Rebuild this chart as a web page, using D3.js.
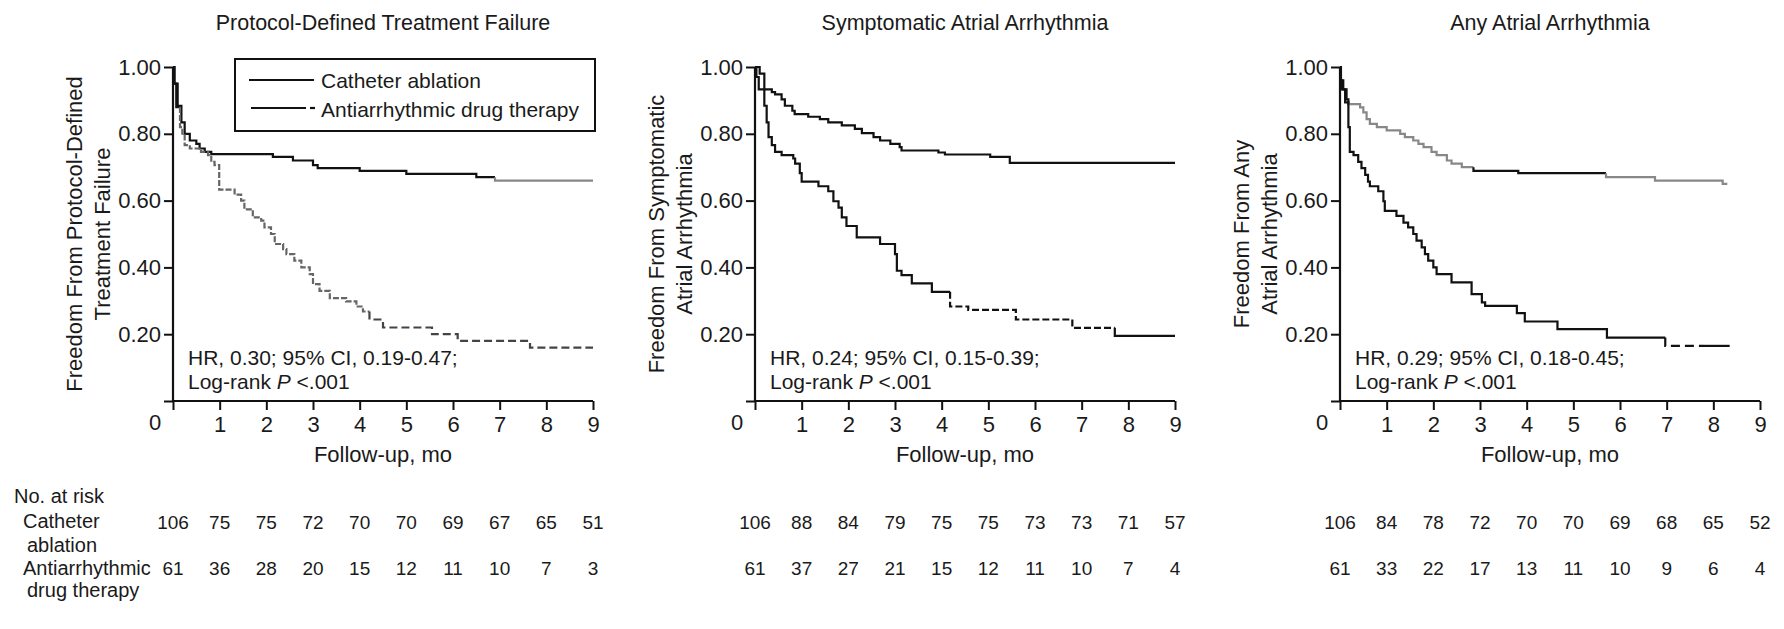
<!DOCTYPE html>
<html>
<head>
<meta charset="utf-8">
<script src="https://cdn.jsdelivr.net/npm/d3@7"></script>
<style>
body { margin: 0; background: #fff; }
text { font-family: "Liberation Sans", Arial, Helvetica, sans-serif; fill: #1a1a1a; }
</style>
</head>
<body>
<div id="vis"></div>
<script>
var width = 1784, height = 629;

// ---- data ----
var months = [0, 1, 2, 3, 4, 5, 6, 7, 8, 9];
var yTicks = [0.2, 0.4, 0.6, 0.8, 1.0];

var titles = ["Protocol-Defined Treatment Failure", "Symptomatic Atrial Arrhythmia", "Any Atrial Arrhythmia"];
var yTitles = [
  ["Freedom From Protocol-Defined", "Treatment Failure"],
  ["Freedom From Symptomatic", "Atrial Arrhythmia"],
  ["Freedom From Any", "Atrial Arrhythmia"]
];
var hrLines = ["HR, 0.30; 95% CI, 0.19-0.47;", "HR, 0.24; 95% CI, 0.15-0.39;", "HR, 0.29; 95% CI, 0.18-0.45;"];
var groups = ["Catheter ablation", "Antiarrhythmic drug therapy"];

// number at risk
var riskAblation1 = [106, 75, 75, 72, 70, 70, 69, 67, 65, 51];
var riskDrug1     = [61, 36, 28, 20, 15, 12, 11, 10, 7, 3];
var riskAblation2 = [106, 88, 84, 79, 75, 75, 73, 73, 71, 57];
var riskDrug2     = [61, 37, 27, 21, 15, 12, 11, 10, 7, 4];
var riskAblation3 = [106, 84, 78, 72, 70, 70, 69, 68, 65, 52];
var riskDrug3     = [61, 33, 22, 17, 13, 11, 10, 9, 6, 4];

// Kaplan-Meier steps [month, survival]
var kmAblation1 = [[0,1],[0.03,0.95],[0.1,0.884],[0.18,0.834],[0.25,0.8],[0.36,0.78],[0.5,0.77],[0.57,0.756],
  [0.68,0.746],[0.82,0.739],[2.14,0.731],[2.57,0.72],[3.0,0.706],[3.1,0.697],[4.0,0.689],[5.0,0.68],
  [6.5,0.67],[6.9,0.66],[9,0.66]];
var kmDrug1 = [[0,1],[0.03,0.95],[0.07,0.88],[0.15,0.82],[0.2,0.795],[0.25,0.766],[0.36,0.756],[0.6,0.746],
  [0.75,0.736],[0.82,0.716],[0.89,0.706],[0.99,0.633],[1.32,0.618],[1.46,0.6],[1.53,0.574],[1.71,0.55],
  [1.89,0.54],[1.96,0.52],[2.1,0.5],[2.18,0.47],[2.36,0.455],[2.43,0.44],[2.6,0.42],[2.75,0.4],[2.93,0.38],
  [3.0,0.35],[3.14,0.33],[3.36,0.308],[3.71,0.298],[3.93,0.283],[4.07,0.268],[4.21,0.244],[4.5,0.22],
  [5.55,0.2],[6.1,0.18],[7.65,0.16],[9,0.16]];
var kmAblation2 = [[0,1],[0.03,0.97],[0.08,0.933],[0.36,0.925],[0.43,0.918],[0.57,0.903],[0.64,0.884],
  [0.8,0.869],[0.85,0.859],[1.14,0.851],[1.39,0.844],[1.57,0.834],[1.86,0.825],[2.14,0.815],[2.29,0.802],
  [2.54,0.79],[2.68,0.78],[2.9,0.77],[3.1,0.76],[3.14,0.75],[3.93,0.744],[4.07,0.738],[5.04,0.731],
  [5.46,0.713],[9,0.713]];
var kmDrug2 = [[0,1],[0.1,0.98],[0.2,0.884],[0.25,0.834],[0.29,0.79],[0.36,0.766],[0.43,0.746],[0.57,0.736],
  [0.82,0.726],[0.86,0.711],[0.96,0.682],[1.0,0.657],[1.36,0.643],[1.57,0.628],[1.68,0.598],[1.79,0.579],
  [1.86,0.55],[1.96,0.524],[2.18,0.49],[2.68,0.47],[3.0,0.44],[3.04,0.39],[3.14,0.377],[3.36,0.352],
  [3.79,0.327],[4.18,0.283],[4.57,0.273],[5.59,0.244],[6.8,0.219],[7.71,0.195],[9,0.195]];
var kmAblation3 = [[0,1],[0.02,0.96],[0.04,0.933],[0.11,0.894],[0.18,0.889],[0.43,0.879],[0.5,0.864],
  [0.57,0.844],[0.64,0.83],[0.79,0.82],[1.0,0.81],[1.29,0.8],[1.39,0.79],[1.57,0.78],[1.68,0.77],[1.79,0.76],
  [1.96,0.746],[2.07,0.736],[2.29,0.72],[2.39,0.711],[2.61,0.7],[2.86,0.689],[3.82,0.682],[5.7,0.67],
  [6.75,0.66],[8.2,0.65],[8.3,0.645]];
var kmDrug3 = [[0,1],[0.02,0.96],[0.07,0.933],[0.14,0.903],[0.18,0.82],[0.21,0.746],[0.29,0.736],[0.39,0.716],
  [0.46,0.697],[0.54,0.677],[0.6,0.657],[0.64,0.643],[0.82,0.628],[0.93,0.598],[0.96,0.569],[1.21,0.554],
  [1.36,0.534],[1.46,0.52],[1.57,0.5],[1.64,0.48],[1.75,0.46],[1.82,0.44],[1.89,0.42],[2.0,0.4],[2.07,0.38],
  [2.39,0.355],[2.82,0.32],[3.04,0.295],[3.11,0.285],[3.79,0.263],[3.96,0.238],[4.66,0.215],[5.72,0.19],
  [6.97,0.165],[8.35,0.165]];

// ---- layout / style ----
var panelLeft = [173, 755, 1340];
var plotW = 420, plotTop = 67, plotBottom = 401;

var panels = [
  { ablation: kmAblation1, drug: kmDrug1, riskA: riskAblation1, riskD: riskDrug1,
    aStyle: [{from:0, to:6.9, color:"#111"}, {from:6.9, to:9, color:"#888"}],
    dStyle: [{from:0, to:0.15, color:"#111"}, {from:0.15, to:4.21, color:"#666", dash:"6,2"}, {from:4.21, to:9, color:"#444", dash:"8,4"}] },
  { ablation: kmAblation2, drug: kmDrug2, riskA: riskAblation2, riskD: riskDrug2,
    aStyle: [{from:0, to:9, color:"#111"}],
    dStyle: [{from:0, to:4.18, color:"#111"}, {from:4.18, to:7.71, color:"#111", dash:"7,3"}, {from:7.71, to:9, color:"#111"}] },
  { ablation: kmAblation3, drug: kmDrug3, riskA: riskAblation3, riskD: riskDrug3,
    aStyle: [{from:0, to:0.2, color:"#111"}, {from:0.2, to:2.86, color:"#888"}, {from:2.86, to:5.7, color:"#111"}, {from:5.7, to:8.3, color:"#888"}],
    dStyle: [{from:0, to:6.97, color:"#111"}, {from:6.97, to:7.8, color:"#111", dash:"9,5"}, {from:7.8, to:8.35, color:"#111"}] }
];

var svg = d3.select("#vis").append("svg")
  .attr("width", width)
  .attr("height", height);

var y = d3.scaleLinear().domain([0, 1]).range([plotBottom, plotTop]);

// cut a step series to the interval [a, b]
function clipSteps(data, a, b) {
  var before = data[0][1];
  data.forEach(function(p) { if (p[0] < a) before = p[1]; });
  var pts = [[a, before]];
  data.forEach(function(p) { if (p[0] >= a && p[0] < b) pts.push(p); });
  pts.push([b, pts[pts.length - 1][1]]);
  return pts;
}

panels.forEach(function(p, i) {
  var x0 = panelLeft[i];
  var x = d3.scaleLinear().domain([0, 9]).range([x0, x0 + plotW]);
  var g = svg.append("g");

  // title
  g.append("text")
    .attr("x", x0 + plotW / 2).attr("y", 30)
    .attr("text-anchor", "middle")
    .style("font-size", "21.5px")
    .text(titles[i]);

  // y axis
  var yAxis = g.append("g")
    .attr("transform", "translate(" + x0 + ",0)")
    .call(d3.axisLeft(y).tickValues([0].concat(yTicks)).tickSize(9).tickPadding(3)
      .tickFormat(function(d) { return d === 0 ? "" : d3.format(".2f")(d); }));
  // x axis
  var xAxis = g.append("g")
    .attr("transform", "translate(0," + plotBottom + ")")
    .call(d3.axisBottom(x).tickValues(months).tickSize(9).tickPadding(6)
      .tickFormat(function(d) { return d === 0 ? "" : d; }));
  [yAxis, xAxis].forEach(function(ax) {
    ax.select(".domain").attr("stroke", "#111").attr("stroke-width", 2.2);
    ax.selectAll(".tick line").attr("stroke", "#111").attr("stroke-width", 2);
    ax.selectAll(".tick text").style("font-size", "22px").attr("fill", "#1a1a1a")
      .style("font-family", "'Liberation Sans', Arial, sans-serif");
  });
  yAxis.select(".domain").attr("d", "M0," + plotBottom + "V" + plotTop);
  xAxis.select(".domain").attr("d", "M" + x0 + ",0H" + (x0 + plotW));

  // shared origin label
  g.append("text")
    .attr("x", x0 - 18).attr("y", plotBottom + 29)
    .attr("text-anchor", "middle")
    .style("font-size", "22px")
    .text("0");

  // x axis title
  g.append("text")
    .attr("x", x0 + plotW / 2).attr("y", 462)
    .attr("text-anchor", "middle")
    .style("font-size", "22px")
    .text("Follow-up, mo");

  // y axis title (two lines)
  yTitles[i].forEach(function(line, k) {
    var bx = x0 - 91 + k * 28;
    g.append("text")
      .attr("transform", "translate(" + bx + "," + ((plotTop + plotBottom) / 2) + ") rotate(-90)")
      .attr("text-anchor", "middle")
      .style("font-size", "22px")
      .text(line);
  });

  // curves
  var line = d3.line()
    .x(function(d) { return x(d[0]); })
    .y(function(d) { return y(d[1]); })
    .curve(d3.curveStepAfter);

  [[p.ablation, p.aStyle], [p.drug, p.dStyle]].forEach(function(c) {
    c[1].forEach(function(s) {
      g.append("path")
        .datum(clipSteps(c[0], s.from, s.to))
        .attr("d", line)
        .attr("fill", "none")
        .attr("stroke", s.color)
        .attr("stroke-width", 2.2)
        .attr("stroke-dasharray", s.dash || null);
    });
  });

  // HR annotation
  g.append("text")
    .attr("x", x0 + 15).attr("y", 365)
    .style("font-size", "21px")
    .text(hrLines[i]);
  var lr = g.append("text")
    .attr("x", x0 + 15).attr("y", 389)
    .style("font-size", "21px");
  lr.append("tspan").text("Log-rank ");
  lr.append("tspan").style("font-style", "italic").text("P");
  lr.append("tspan").text(" <.001");

  // numbers at risk
  g.selectAll(".riskA")
    .data(p.riskA)
    .enter().append("text")
    .attr("x", function(d, k) { return x(months[k]); })
    .attr("y", 529)
    .attr("text-anchor", "middle")
    .style("font-size", "19px")
    .text(function(d) { return d; });
  g.selectAll(".riskD")
    .data(p.riskD)
    .enter().append("text")
    .attr("x", function(d, k) { return x(months[k]); })
    .attr("y", 575)
    .attr("text-anchor", "middle")
    .style("font-size", "19px")
    .text(function(d) { return d; });
});

// legend in first panel
var lg = svg.append("g");
lg.append("rect")
  .attr("x", 235).attr("y", 59)
  .attr("width", 360).attr("height", 72)
  .attr("fill", "#fff")
  .attr("stroke", "#111")
  .attr("stroke-width", 2);
lg.append("line").attr("x1", 249).attr("x2", 314).attr("y1", 80).attr("y2", 80)
  .attr("stroke", "#111").attr("stroke-width", 2.2);
lg.append("line").attr("x1", 251).attr("x2", 306).attr("y1", 108).attr("y2", 108)
  .attr("stroke", "#111").attr("stroke-width", 2.2);
lg.append("line").attr("x1", 310).attr("x2", 315).attr("y1", 108).attr("y2", 108)
  .attr("stroke", "#111").attr("stroke-width", 2.2);
groups.forEach(function(name, k) {
  lg.append("text")
    .attr("x", 321).attr("y", 88 + k * 29)
    .style("font-size", "21px")
    .text(name);
});

// risk table row labels
var rowLabels = [["No. at risk", 14, 503], ["Catheter", 23, 528], ["ablation", 27, 552],
  ["Antiarrhythmic", 23, 575], ["drug therapy", 27, 597]];
svg.selectAll(".rowLabel")
  .data(rowLabels)
  .enter().append("text")
  .attr("x", function(d) { return d[1]; })
  .attr("y", function(d) { return d[2]; })
  .style("font-size", "20px")
  .text(function(d) { return d[0]; });
</script>
</body>
</html>
